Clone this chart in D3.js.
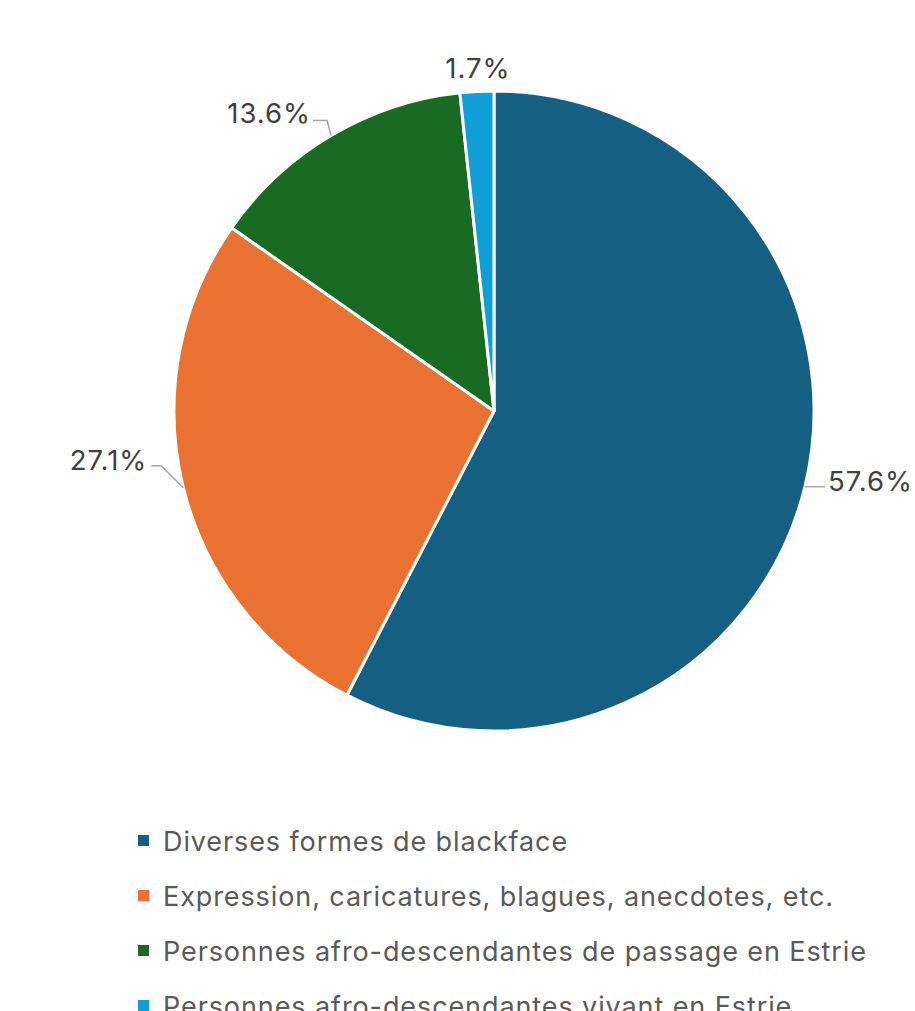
<!DOCTYPE html>
<html><head><meta charset="utf-8">
<script src="https://cdn.jsdelivr.net/npm/d3@7"></script>
<style>html,body{margin:0;padding:0;background:#fff;} svg{display:block;}</style>
</head><body>
<svg id="chart" width="915" height="1011"></svg>
<script>
const categories = [
  "Diverses formes de blackface",
  "Expression, caricatures, blagues, anecdotes, etc.",
  "Personnes afro-descendantes de passage en Estrie",
  "Personnes afro-descendantes vivant en Estrie"
];
const values = [57.6, 27.1, 13.6, 1.7];
const labels = ["57.6%", "27.1%", "13.6%", "1.7%"];
const colors = ["#156082", "#E97132", "#196B24", "#0F9ED5"];

const svg = d3.select("#chart");
const font = "Inter, 'Open Sans', sans-serif";
const cx = 494, cy = 411, R = 320;

const pie = d3.pie().sort(null).value(d => d);
const arcs = pie(values);
const arc = d3.arc().innerRadius(0).outerRadius(R);
const g = svg.append("g").attr("transform", `translate(${cx},${cy})`);
g.selectAll("path").data(arcs).join("path")
  .attr("d", arc).attr("fill", (d,i) => colors[i])
  .attr("stroke", "#fff").attr("stroke-width", 3).attr("stroke-linejoin", "round");

// label layout (offsets relative to the point on the rim at each slice's mid-angle)
const edge = d => {
  const a = (d.startAngle + d.endAngle) / 2;
  return [R * Math.sin(a), -R * Math.cos(a)];
};
const layout = [
  {leader: [[0,0],[20,0]], text: [23,-6], anchor: "start"},
  {leader: [[0,0],[-22,-22],[-32,-22]], text: [-36,-28], anchor: "end"},
  {leader: [[0,0],[-4,-15],[-18,-15]], text: [-20,-23], anchor: "end"},
  {leader: null, text: [1,-23], anchor: "middle"}
];
arcs.forEach((d,i) => {
  const [ex, ey] = edge(d);
  const L = layout[i];
  if (L.leader) {
    g.append("path")
      .attr("d", d3.line()(L.leader.map(p => [ex + p[0], ey + p[1]])))
      .attr("fill", "none").attr("stroke", "#A6A6A6").attr("stroke-width", 1.5);
  }
  g.append("text")
    .attr("x", ex + L.text[0]).attr("y", ey + L.text[1])
    .attr("text-anchor", L.anchor).attr("dominant-baseline", "central")
    .attr("font-family", font).attr("font-size", 27.5).attr("letter-spacing", 1)
    .attr("fill", "#404040")
    .text(labels[i]);
});

// legend
const leg = svg.append("g");
categories.forEach((c,i) => {
  const y = 841 + i * 55;
  leg.append("rect").attr("x", 138).attr("y", y - 6).attr("width", 11).attr("height", 11).attr("fill", colors[i]);
  leg.append("text").attr("x", 163).attr("y", y).attr("dominant-baseline", "central")
    .attr("font-family", font).attr("font-size", 27).attr("letter-spacing", 0.9)
    .attr("fill", "#595959").text(c);
});
</script>
</body></html>
